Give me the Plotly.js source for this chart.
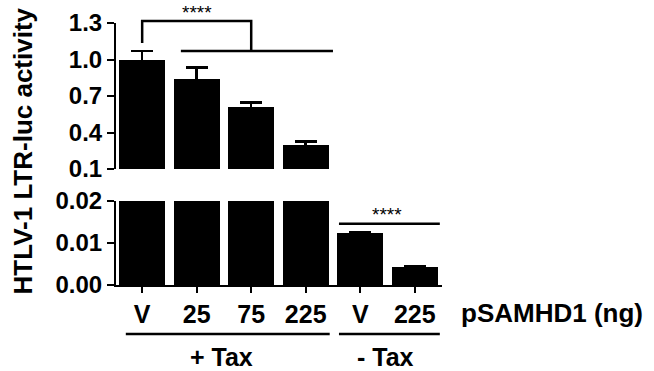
<!DOCTYPE html>
<html>
<head>
<meta charset="utf-8">
<script src="https://cdn.plot.ly/plotly-3.0.1.min.js"></script>
<style>html,body{margin:0;padding:0;background:#fff;}#chart{width:654px;height:371px;}</style>
</head>
<body>
<div id="chart"></div>
<script>
// ---- data ----
const positions = [0, 1, 2, 3, 4, 5];
const tickLabels = ["V", "25", "75", "225", "V", "225"];
const activity = [1.0, 0.84, 0.607, 0.30, 0.0124, 0.0044];
const activityErr = [0.068, 0.096, 0.041, 0.025, 0.0001, 0.0001];
const groupLabels = ["+ Tax", "- Tax"];
const sigLabel = "****";

const FONT = "Liberation Sans, Arial, Helvetica, sans-serif";
const black = "#000000";

function barTrace(xa, ya) {
  return {
    type: "bar",
    x: positions,
    y: activity,
    xaxis: xa,
    yaxis: ya,
    width: 0.845,
    marker: {color: black, line: {color: black, width: 0}},
    error_y: {type: "data", array: activityErr, symmetric: true, color: black, thickness: 2.5, width: 11},
    showlegend: false,
    hoverinfo: "skip"
  };
}

const data = [barTrace("x", "y"), barTrace("x2", "y2")];

const axisLine = {showline: true, linecolor: black, linewidth: 2, ticks: "outside", ticklen: 7, tickwidth: 2, tickcolor: black, zeroline: false, showgrid: false};

const layout = {
  width: 654, height: 371,
  margin: {l: 116, r: 212, t: 23, b: 86, pad: 0},
  paper_bgcolor: "#fff", plot_bgcolor: "rgba(0,0,0,0)",
  font: {family: FONT, color: black, weight: "bold"},
  bargap: 0,
  xaxis: Object.assign({}, axisLine, {
    range: [-0.48, 5.5], anchor: "y",
    tickmode: "array", tickvals: positions, ticktext: tickLabels,
    ticklen: 6,
    tickfont: {family: FONT, size: 25, weight: "bold", color: black}
  }),
  yaxis: Object.assign({}, axisLine, {
    domain: [0, 0.3206], range: [0, 0.02],
    tickmode: "linear", tick0: 0, dtick: 0.01, tickformat: ".2f",
    tickfont: {family: FONT, size: 24, weight: "bold", color: black}
  }),
  xaxis2: {range: [-0.48, 5.5], anchor: "y2", matches: "x", showline: false, showticklabels: false, ticks: "", showgrid: false, zeroline: false},
  yaxis2: Object.assign({}, axisLine, {
    domain: [0.4427, 1], range: [0.1, 1.3], anchor: "x2",
    tickmode: "linear", tick0: 0.1, dtick: 0.3, tickformat: ".1f",
    tickfont: {family: FONT, size: 24, weight: "bold", color: black}
  }),
  shapes: [
    // top significance bracket
    {type: "path", xref: "x", yref: "paper", path: "M 0 0.9237 L 0 1.0076 L 2 1.0076 L 2 0.893", line: {color: black, width: 2.5}},
    {type: "line", xref: "x", yref: "paper", x0: 0.71, x1: 3.5, y0: 0.893, y1: 0.893, line: {color: black, width: 2.5}},
    // -Tax significance line
    {type: "line", xref: "x", yref: "paper", x0: 3.61, x1: 5.46, y0: 0.234, y1: 0.234, line: {color: black, width: 2.5}},
    // group lines under axis
    {type: "line", xref: "x", yref: "paper", x0: -0.3, x1: 3.44, y0: -0.187, y1: -0.187, line: {color: black, width: 2.5}},
    {type: "line", xref: "x", yref: "paper", x0: 3.61, x1: 5.46, y0: -0.187, y1: -0.187, line: {color: black, width: 2.5}}
  ],
  annotations: [
    {text: sigLabel, xref: "x", yref: "paper", x: 1.01, y: 1.04, showarrow: false, xanchor: "center", yanchor: "middle", font: {family: FONT, size: 19, weight: "normal", color: black}},
    {text: sigLabel, xref: "x", yref: "paper", x: 4.49, y: 0.27, showarrow: false, xanchor: "center", yanchor: "middle", font: {family: FONT, size: 19, weight: "normal", color: black}},
    {text: groupLabels[0], xref: "x", yref: "paper", x: 1.46, y: -0.275, showarrow: false, xanchor: "center", yanchor: "middle", font: {family: FONT, size: 25, weight: "bold", color: black}},
    {text: groupLabels[1], xref: "x", yref: "paper", x: 4.47, y: -0.275, showarrow: false, xanchor: "center", yanchor: "middle", font: {family: FONT, size: 25, weight: "bold", color: black}},
    {text: "pSAMHD1 (ng)", xref: "paper", yref: "paper", x: 1.052, y: -0.107, showarrow: false, xanchor: "left", yanchor: "middle", font: {family: FONT, size: 26, weight: "bold", color: black}},
    {text: "HTLV-1 LTR-luc activity", xref: "paper", yref: "paper", x: -0.285, y: 0.51, textangle: -90, showarrow: false, xanchor: "center", yanchor: "middle", font: {family: FONT, size: 26, weight: "bold", color: black}}
  ]
};

Plotly.newPlot("chart", data, layout, {staticPlot: true, displayModeBar: false});
</script>
</body>
</html>
